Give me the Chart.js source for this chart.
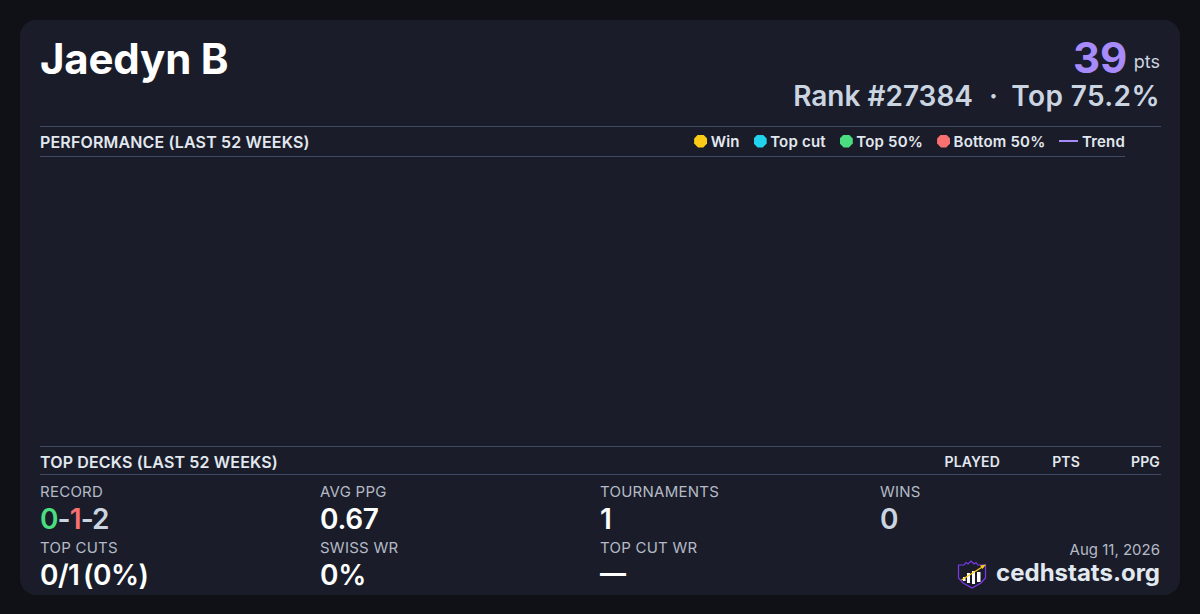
<!DOCTYPE html>
<html>
<head>
<meta charset="utf-8">
<title>Jaedyn B</title>
<script src="https://cdn.jsdelivr.net/npm/chart.js@4/dist/chart.umd.min.js"></script>
<style>
html,body{margin:0;padding:0;width:1200px;height:614px;overflow:hidden;background:#0f1116;font-family:Inter,sans-serif;color:#fff}
#card{position:absolute;left:20px;top:20px;width:1160px;height:575px;border-radius:16px;background:#1a1d29}
.t{position:absolute;white-space:nowrap;line-height:1}
.r{text-align:right}
.rule{position:absolute;height:1px;background:#3f4b63}
.lab{font-size:15px;color:#b4bac6;letter-spacing:.25px}
.val{font-size:28px;font-weight:600;color:#fff;letter-spacing:-.3px}
.head{font-size:16px;font-weight:600;color:#e2e8f0;letter-spacing:.15px}
#chartBox{position:absolute;left:40px;top:157px;width:1085px;height:289px}
#legend{position:absolute;right:75px;top:133px;display:flex;align-items:center;height:16px;font-size:15px;font-weight:600;color:#e2e8f0;letter-spacing:.2px}
#legend .item{display:flex;align-items:center;margin-left:14px}
#legend .dot{width:13px;height:13px;margin-right:3.5px;clip-path:polygon(30% 0,70% 0,100% 30%,100% 70%,70% 100%,30% 100%,0 70%,0 30%)}
#legend .line{width:19px;height:2px;margin-right:3.5px}
</style>
</head>
<body>
<div id="card"></div>
<div class="t" style="left:40px;top:38px;font-size:42px;font-weight:700;letter-spacing:-.2px">Jaedyn B</div>
<div class="t" style="left:1073px;top:37px;font-size:42px;font-weight:700;color:#a78bfa">39</div>
<div class="t r" style="right:40px;top:53px;font-size:18px;color:#cbd5e1">pts</div>
<div class="t r" style="right:227px;top:82px;font-size:28px;font-weight:600;color:#cbd5e1">Rank #27384</div>
<div class="t" style="left:989px;top:82px;font-size:28px;font-weight:600;color:#cbd5e1">·</div>
<div class="t r" style="right:40px;top:82px;font-size:28px;font-weight:600;color:#cbd5e1;letter-spacing:.4px">Top 75.2%</div>

<div class="rule" style="left:40px;top:126px;width:1121px"></div>
<div class="t head" style="left:40px;top:134px">PERFORMANCE (LAST 52 WEEKS)</div>
<div id="legend"></div>
<div class="rule" style="left:40px;top:156px;width:1085px"></div>
<div id="chartBox"><canvas id="perfChart"></canvas></div>

<div class="rule" style="left:40px;top:446px;width:1121px"></div>
<div class="t head" style="left:40px;top:454px">TOP DECKS (LAST 52 WEEKS)</div>
<div class="t head r" style="right:200px;top:455px;font-size:14px">PLAYED</div>
<div class="t head r" style="right:120px;top:455px;font-size:14px">PTS</div>
<div class="t head r" style="right:40px;top:455px;font-size:14px">PPG</div>
<div class="rule" style="left:40px;top:474px;width:1121px"></div>

<div class="t lab" style="left:40px;top:484px">RECORD</div>
<div class="t val" style="left:40px;top:505px;color:#cbd5e1;letter-spacing:-.9px"><span style="color:#4ade80">0</span>-<span style="color:#f87171">1</span>-2</div>
<div class="t lab" style="left:320px;top:484px">AVG PPG</div>
<div class="t val" style="left:320px;top:505px">0.67</div>
<div class="t lab" style="left:600px;top:484px">TOURNAMENTS</div>
<div class="t val" style="left:600px;top:505px">1</div>
<div class="t lab" style="left:880px;top:484px">WINS</div>
<div class="t val" style="left:880px;top:505px;color:#cbd5e1">0</div>

<div class="t lab" style="left:40px;top:540px">TOP CUTS</div>
<div class="t val" style="left:40px;top:561px;word-spacing:-3px;letter-spacing:-.5px">0/1 (0%)</div>
<div class="t lab" style="left:320px;top:540px">SWISS WR</div>
<div class="t val" style="left:320px;top:561px">0%</div>
<div class="t lab" style="left:600px;top:540px">TOP CUT WR</div>
<div class="t val" style="left:600px;top:560px;font-size:26px;font-weight:700">—</div>

<div class="t r lab" style="right:40px;top:542px;letter-spacing:0">Aug 11, 2026</div>
<svg style="position:absolute;left:957px;top:559px" width="30" height="30" viewBox="0 0 30 30">
  <path d="M1.5 6 L7 6 L9 3.5 L11 5 L14 2 L17 5 L19 3.5 L21 6 L28.5 6 L28.5 19 L24 24 L15 29 L6 24 L1.5 19 Z" fill="#1a1d29" stroke="#7c3aed" stroke-width="1.2"/>
  <rect x="6" y="18" width="2.5" height="4" fill="#fff"/>
  <rect x="10" y="14" width="3" height="10" fill="#fff"/>
  <rect x="15" y="12" width="3" height="13" fill="#fff"/>
  <rect x="20" y="13" width="3.5" height="10" fill="#fff"/>
  <path d="M4.5 21 L26 7.5" stroke="#facc15" stroke-width="1.3"/>
  <path d="M29 5.5 L23 6.5 L25.5 10 Z" fill="#facc15"/>
</svg>
<div class="t r" style="right:40px;top:561px;font-size:24px;font-weight:700;color:#e2e8f0">cedhstats.org</div>

<script>
// 52 week window, this player has no plotted results in it
var seriesNames = ['Win', 'Top cut', 'Top 50%', 'Bottom 50%', 'Trend'];
var seriesColors = ['#facc15', '#22d3ee', '#4ade80', '#f87171', '#a78bfa'];
var winPoints = [];
var topCutPoints = [];
var top50Points = [];
var bottom50Points = [];
var trendPoints = [];

var seriesData = [winPoints, topCutPoints, top50Points, bottom50Points, trendPoints];

var datasets = seriesNames.map(function(name, i) {
    var isTrend = name == 'Trend';
    return {
        type: isTrend ? 'line' : 'scatter',
        label: name,
        data: seriesData[i],
        borderColor: seriesColors[i],
        backgroundColor: seriesColors[i],
        pointRadius: isTrend ? 0 : 5
    };
});

new Chart(document.getElementById('perfChart'), {
    data: { datasets: datasets },
    options: {
        responsive: true,
        maintainAspectRatio: false,
        animation: false,
        plugins: { legend: { display: false }, tooltip: { enabled: false } },
        scales: {
            x: { type: 'linear', display: false },
            y: { display: false }
        }
    }
});

// legend sits in the section header, above the canvas
var legend = document.getElementById('legend');
seriesNames.forEach(function(name, i) {
    var item = document.createElement('div');
    item.className = 'item';
    var mark = document.createElement('span');
    mark.className = name == 'Trend' ? 'line' : 'dot';
    mark.style.background = seriesColors[i];
    item.appendChild(mark);
    item.appendChild(document.createTextNode(name));
    legend.appendChild(item);
});
</script>
</body>
</html>
